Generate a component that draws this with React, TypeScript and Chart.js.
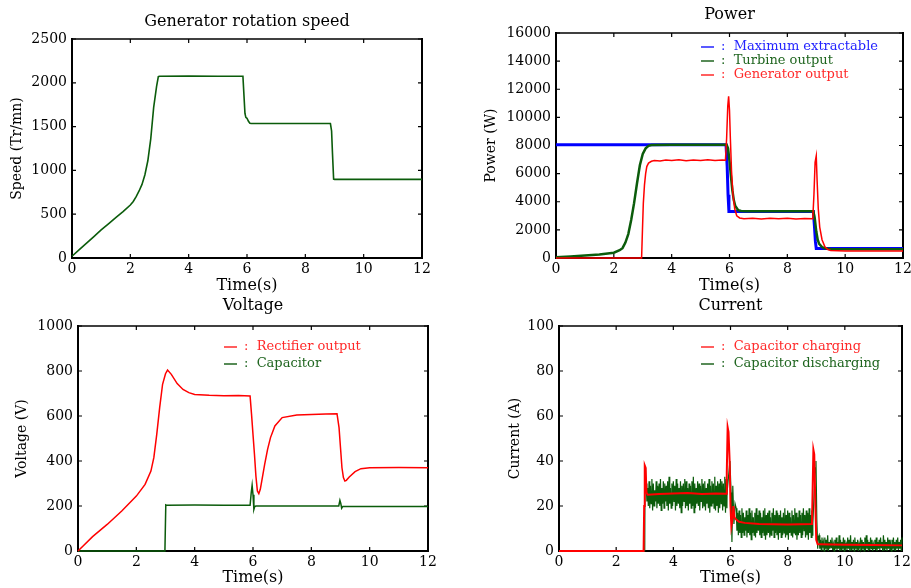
import React, { useEffect, useRef } from 'react';
import { Chart, registerables } from 'chart.js';
Chart.register(...registerables);

const FONT = "'DejaVu Serif', serif";
Chart.defaults.font.family = FONT;
Chart.defaults.color = '#000';

// ---------- Axis ticks ----------
const timeTicks = { min: 0, max: 12, step: 2 };
const speedTicks = { min: 0, max: 2500, step: 500 };
const powerTicks = { min: 0, max: 16000, step: 2000 };
const voltTicks = { min: 0, max: 1000, step: 200 };
const currTicks = { min: 0, max: 100, step: 20 };

// ---------- Generator rotation speed ----------
const speedTime = [0, 0.25, 0.5, 0.75, 1, 1.25, 1.5, 1.75, 2, 2.1, 2.2, 2.3, 2.4, 2.5, 2.6, 2.7, 2.8, 2.9, 2.96, 3.0, 4, 5, 5.86, 5.93, 5.96, 6.0, 6.05, 6.1, 6.15, 7, 8, 8.86, 8.9, 8.93, 8.97, 9.0, 10, 11, 12];
const speedRpm = [20, 95, 170, 245, 320, 390, 460, 530, 605, 645, 700, 765, 840, 950, 1110, 1360, 1720, 1960, 2070, 2075, 2076, 2075, 2075, 1650, 1605, 1595, 1560, 1538, 1535, 1535, 1535, 1535, 1450, 1200, 900, 898, 898, 898, 898];

// ---------- Power ----------
const maxTime = [0, 5.88, 5.92, 5.95, 5.98, 6.05, 8.9, 8.94, 8.97, 9.0, 12];
const maxPower = [8050, 8050, 6500, 4500, 3300, 3300, 3300, 2200, 1200, 680, 680];

const turbTime = [0, 0.5, 1, 1.5, 2, 2.2, 2.3, 2.4, 2.5, 2.6, 2.7, 2.8, 2.9, 3.0, 3.1, 3.2, 3.3, 4, 5, 5.9, 5.95, 6.0, 6.05, 6.1, 6.15, 6.2, 6.3, 6.4, 6.6, 7, 8, 8.9, 8.95, 9.0, 9.05, 9.1, 9.2, 9.3, 9.5, 10, 12];
const turbPower = [50, 100, 170, 250, 380, 550, 700, 1100, 1700, 2700, 3900, 5300, 6600, 7400, 7800, 7980, 8040, 8050, 8050, 8050, 7800, 6900, 5800, 4800, 4100, 3700, 3400, 3340, 3330, 3330, 3330, 3330, 2800, 1900, 1300, 1000, 780, 680, 640, 620, 620];

const genTime = [0, 2.96, 2.99, 3.02, 3.06, 3.1, 3.14, 3.2, 3.3, 3.4, 3.6, 3.8, 4.0, 4.25, 4.5, 4.75, 5.0, 5.25, 5.5, 5.75, 5.86, 5.9, 5.94, 5.97, 6.0, 6.03, 6.07, 6.12, 6.18, 6.25, 6.35, 6.5, 6.8, 7.1, 7.4, 7.7, 8.0, 8.3, 8.6, 8.88, 8.92, 8.96, 9.0, 9.03, 9.07, 9.12, 9.2, 9.3, 9.4, 9.5, 10, 11, 12];
const genPower = [0, 0, 2000, 3900, 5200, 6000, 6500, 6750, 6880, 6930, 6900, 6960, 6930, 6980, 6920, 6970, 6940, 6990, 6930, 6960, 6950, 8500, 10800, 11500, 10500, 8500, 6200, 4500, 3500, 3000, 2850, 2800, 2830, 2780, 2820, 2790, 2830, 2780, 2810, 2800, 4500, 6800, 7250, 5500, 3500, 2200, 1300, 800, 600, 530, 500, 500, 500];

// ---------- Voltage ----------
const rectTime = [0, 0.5, 1, 1.5, 2, 2.3, 2.5, 2.6, 2.7, 2.8, 2.9, 3.0, 3.07, 3.2, 3.4, 3.6, 3.8, 4.0, 4.5, 5.0, 5.5, 5.9, 5.95, 6.0, 6.05, 6.1, 6.15, 6.2, 6.25, 6.3, 6.4, 6.5, 6.6, 6.75, 7.0, 7.5, 8.0, 8.5, 8.88, 8.95, 9.0, 9.05, 9.1, 9.15, 9.2, 9.3, 9.5, 9.7, 10, 11, 12];
const rectVolt = [0, 64, 118, 178, 244, 296, 355, 415, 518, 637, 741, 788, 804, 785, 744, 718, 704, 696, 692, 690, 691, 689, 607, 518, 430, 333, 267, 255, 274, 311, 385, 452, 504, 556, 593, 604, 607, 609, 610, 548, 459, 370, 326, 311, 314, 329, 353, 366, 370, 371, 370];

const capTime = [0, 2.98, 3.01, 3.05, 4, 5, 5.9, 5.94, 5.97, 6.0, 6.03, 6.06, 6.1, 7, 8, 8.94, 8.98, 9.01, 9.04, 9.08, 10, 12];
const capVolt = [0, 0, 205, 203, 204, 203, 203, 260, 292, 250, 185, 198, 200, 200, 200, 200, 225, 212, 190, 198, 198, 198];

// ---------- Current ----------
const chgTime = [0, 2.96, 2.98, 3.0, 3.03, 3.06, 3.1, 3.5, 4, 4.5, 5, 5.5, 5.85, 5.87, 5.9, 5.93, 5.97, 6.0, 6.03, 6.07, 6.1, 6.14, 6.2, 6.3, 6.5, 7, 8, 8.85, 8.87, 8.9, 8.93, 8.97, 9.0, 9.05, 9.1, 10, 11, 12];
const chgAmp = [0, 0, 20, 38, 37, 26, 25, 25.3, 25.6, 25.8, 25.3, 25.6, 25.5, 35, 55, 53, 40, 20, 11, 14, 20, 15, 14, 13, 12.5, 12, 11.8, 12, 25, 45, 43, 20, 5, 3, 3, 2.8, 2.7, 2.5];

// discharging current: transitions + noisy segments (upper / lower peaks every 0.05 s)
const disPreTime = [0, 3.0, 3.01, 3.03];
const disPreAmp = [0, 0, 37, 28];
const disSegAStart = 3.05;
const disSegAHi = [30, 28, 31, 29, 32, 30, 27, 31, 29, 30, 32, 28, 31, 30, 29, 31, 33, 28, 30, 31, 29, 32, 30, 28, 31, 29, 30, 32, 31, 28, 30, 29, 31, 33, 30, 28, 31, 30, 29, 32, 30, 31, 28, 30, 32, 29, 31, 30, 33, 29, 31, 30, 32, 31, 30, 33, 32];
const disSegALo = [22, 20, 19, 21, 18, 20, 22, 19, 21, 20, 18, 21, 19, 22, 20, 18, 21, 19, 20, 22, 18, 20, 21, 19, 17, 20, 22, 19, 20, 18, 21, 19, 20, 17, 19, 21, 20, 18, 22, 19, 20, 18, 21, 19, 17, 20, 21, 19, 18, 20, 17, 19, 21, 18, 20, 17, 19];
const disMid1Time = [5.88, 5.93, 5.98, 6.02, 6.05, 6.08, 6.12, 6.16];
const disMid1Amp = [26, 33, 40, 26, 4, 29, 12, 21];
const disSegBStart = 6.2;
const disSegBHi = [19, 17, 18, 16, 19, 17, 15, 18, 16, 19, 17, 18, 15, 17, 19, 16, 18, 17, 15, 18, 19, 16, 17, 18, 15, 17, 19, 16, 18, 17, 16, 18, 15, 17, 19, 16, 18, 17, 15, 18, 16, 19, 17, 15, 18, 16, 17, 19, 16, 18, 17, 19, 16, 18];
const disSegBLo = [9, 7, 8, 6, 8, 7, 9, 6, 8, 7, 5, 8, 7, 6, 8, 9, 7, 6, 8, 7, 5, 7, 8, 6, 7, 9, 6, 8, 7, 5, 8, 6, 7, 8, 6, 7, 5, 8, 7, 6, 8, 7, 5, 7, 8, 6, 7, 9, 6, 7, 5, 8, 6, 7];
const disMid2Time = [8.88, 8.92, 8.96, 8.99, 9.02, 9.05, 9.07];
const disMid2Amp = [12, 24, 37, 40, 14, 1, 6];
const disSegCStart = 9.1;
const disSegCHi = [7, 5, 6, 4, 6, 5, 7, 4, 5, 6, 3, 5, 6, 4, 7, 5, 4, 6, 5, 3, 6, 5, 7, 4, 5, 6, 4, 5, 3, 6, 5, 4, 6, 7, 5, 4, 6, 5, 3, 5, 6, 4, 5, 6, 4, 7, 5, 4, 6, 5, 3, 5, 6, 4, 5, 6, 4, 5, 6];
const disSegCLo = [1, 0.5, 1.5, 0, 1, 0.5, 0, 1, 1.5, 0.5, 0, 1, 0.5, 1, 0, 0.5, 1, 0, 1.5, 0.5, 1, 0, 0.5, 1, 0, 1, 0.5, 0, 1.5, 0.5, 1, 0, 0.5, 1, 0, 0.5, 1, 0, 1, 0.5, 0, 1, 0.5, 1.5, 0, 0.5, 1, 0, 1, 0.5, 0, 1, 0.5, 0, 1, 0.5, 1, 0, 0.5];
const SEG_STEP = 0.05;

// ---------- helpers ----------
type Pt = { x: number; y: number };
function zip(t: number[], v: number[]): Pt[] {
  const n = Math.min(t.length, v.length);
  const out: Pt[] = [];
  for (let i = 0; i < n; i++) out.push({ x: t[i], y: v[i] });
  return out;
}
function band(start: number, hi: number[], lo: number[]): Pt[] {
  const n = Math.min(hi.length, lo.length);
  const out: Pt[] = [];
  for (let i = 0; i < n; i++) {
    const t = +(start + i * SEG_STEP).toFixed(4);
    out.push({ x: t, y: hi[i] });
    out.push({ x: +(t + SEG_STEP / 2).toFixed(4), y: lo[i] });
  }
  return out;
}
const dischargePts: Pt[] = [
  ...zip(disPreTime, disPreAmp),
  ...band(disSegAStart, disSegAHi, disSegALo),
  ...zip(disMid1Time, disMid1Amp),
  ...band(disSegBStart, disSegBHi, disSegBLo),
  ...zip(disMid2Time, disMid2Amp),
  ...band(disSegCStart, disSegCHi, disSegCLo),
];

const GREEN = '#0b5c0b';
const RED = '#ff0000';
const BLUE = '#0000ff';

function line(data: Pt[], color: string, width: number, order: number) {
  return {
    data,
    borderColor: color,
    backgroundColor: color,
    borderWidth: width,
    pointRadius: 0,
    tension: 0,
    fill: false,
    order,
    clip: 3,
  };
}

type LegendItem = { label: string; color: string };
type PanelCfg = {
  canvas: { left: number; top: number; width: number; height: number };
  plot: { l: number; t: number; r: number; b: number };
  title: string;
  titleY: number;
  yTitle: string;
  yTitleX: number;
  xTitleY: number;
  yTicks: { min: number; max: number; step: number };
  datasets: any[];
  legend: LegendItem[];
  legendX: number;
  legendY: number;
  legendDy: number;
};

const TITLE_SIZE = 16;
const TICK_SIZE = 14;
const XT_SIZE = 16;
const YT_SIZE = 14;
const LEG_SIZE = 13;

function boxPlugin() {
  return {
    id: 'boxAxes',
    beforeDatasetsDraw(chart: any) {
      const { ctx, chartArea: a, scales } = chart;
      ctx.save();
      ctx.strokeStyle = '#000';
      ctx.lineWidth = 1.2;
      ctx.beginPath();
      for (const t of scales.x.ticks) {
        const px = scales.x.getPixelForValue(t.value);
        ctx.moveTo(px, a.bottom);
        ctx.lineTo(px, a.bottom - 4);
        ctx.moveTo(px, a.top);
        ctx.lineTo(px, a.top + 4);
      }
      for (const t of scales.y.ticks) {
        const py = scales.y.getPixelForValue(t.value);
        ctx.moveTo(a.left, py);
        ctx.lineTo(a.left + 4, py);
        ctx.moveTo(a.right, py);
        ctx.lineTo(a.right - 4, py);
      }
      ctx.stroke();
      ctx.lineCap = 'square';
      ctx.lineWidth = 2;
      ctx.beginPath();
      ctx.moveTo(a.left, a.top);
      ctx.lineTo(a.left, a.bottom);
      ctx.lineTo(a.right, a.bottom);
      ctx.lineTo(a.right, a.top);
      ctx.stroke();
      ctx.lineWidth = 1.5;
      ctx.beginPath();
      ctx.moveTo(a.left, a.top);
      ctx.lineTo(a.right, a.top);
      ctx.stroke();
      ctx.restore();
    },
  };
}

function legendPlugin(p: PanelCfg) {
  return {
    id: 'customLegend',
    afterDraw(chart: any) {
      const { ctx } = chart;
      ctx.save();
      ctx.font = `${LEG_SIZE}px ${FONT}`;
      ctx.textBaseline = 'middle';
      ctx.textAlign = 'left';
      p.legend.forEach((it, i) => {
        const x = p.legendX - p.canvas.left;
        const y = p.legendY + i * p.legendDy - p.canvas.top;
        ctx.strokeStyle = it.color;
        ctx.lineWidth = 1.5;
        ctx.beginPath();
        ctx.moveTo(x, y);
        ctx.lineTo(x + 13, y);
        ctx.stroke();
        ctx.fillStyle = it.color;
        ctx.fillText(':  ' + it.label, x + 20, y);
      });
      ctx.restore();
    },
  };
}

function buildConfig(p: PanelCfg): any {
  const c = p.canvas;
  const titleLH = TITLE_SIZE * 1.2;
  const titlePadTop = p.titleY - c.top - titleLH / 2;
  const titlePadBottom = p.plot.t - c.top - titlePadTop - titleLH;
  const yW = p.plot.l - c.left;
  const padRight = c.left + c.width - p.plot.r;
  const xH = c.top + c.height - p.plot.b;
  const xtLH = XT_SIZE * 1.2;
  const xTitlePadBottom = c.top + c.height - p.xTitleY - xtLH / 2;
  const tickLH = TICK_SIZE * 1.2;
  const xTickPad = 11.5 - tickLH / 2;
  const ytLH = YT_SIZE * 1.2;
  const yTitlePadTop = p.yTitleX - c.left - ytLH / 2;
  const tickFont = { family: FONT, size: TICK_SIZE };
  return {
    type: 'line',
    data: { datasets: p.datasets },
    options: {
      responsive: false,
      animation: false,
      devicePixelRatio: 1,
      events: [],
      layout: { padding: { left: 0, right: padRight, top: 0, bottom: 0 } },
      plugins: {
        legend: { display: false },
        tooltip: { enabled: false },
        title: {
          display: true,
          fullSize: false,
          text: p.title,
          color: '#000',
          font: { family: FONT, size: TITLE_SIZE, weight: 'normal', lineHeight: 1.2 },
          padding: { top: titlePadTop, bottom: titlePadBottom },
        },
      },
      scales: {
        x: {
          type: 'linear',
          min: timeTicks.min,
          max: timeTicks.max,
          ticks: {
            stepSize: timeTicks.step,
            padding: xTickPad,
            font: tickFont,
            color: '#000',
            maxRotation: 0,
            autoSkip: false,
            callback: (v: number) => String(v),
          },
          grid: { display: false, drawTicks: false },
          border: { display: false },
          title: {
            display: true,
            text: 'Time(s)',
            color: '#000',
            font: { family: FONT, size: XT_SIZE, lineHeight: 1.2 },
            padding: { top: 0, bottom: xTitlePadBottom },
          },
          afterFit: (s: any) => {
            s.height = xH;
          },
        },
        y: {
          type: 'linear',
          min: p.yTicks.min,
          max: p.yTicks.max,
          ticks: {
            stepSize: p.yTicks.step,
            padding: 5,
            font: tickFont,
            color: '#000',
            autoSkip: false,
            callback: (v: number) => String(v),
          },
          grid: { display: false, drawTicks: false },
          border: { display: false },
          title: {
            display: true,
            text: p.yTitle,
            color: '#000',
            font: { family: FONT, size: YT_SIZE, lineHeight: 1.2 },
            padding: { top: yTitlePadTop, bottom: 0 },
          },
          afterFit: (s: any) => {
            s.width = yW;
          },
        },
      },
    },
    plugins: [boxPlugin(), legendPlugin(p)],
  };
}

const panels: PanelCfg[] = [
  {
    canvas: { left: 0, top: 0, width: 456, height: 296 },
    plot: { l: 72, t: 39, r: 422, b: 258 },
    title: 'Generator rotation speed',
    titleY: 22,
    yTitle: 'Speed (Tr/mn)',
    yTitleX: 17,
    xTitleY: 286,
    yTicks: speedTicks,
    datasets: [line(zip(speedTime, speedRpm), GREEN, 1.6, 1)],
    legend: [],
    legendX: 0,
    legendY: 0,
    legendDy: 0,
  },
  {
    canvas: { left: 456, top: 0, width: 470, height: 296 },
    plot: { l: 556, t: 33, r: 903, b: 258 },
    title: 'Power',
    titleY: 15,
    yTitle: 'Power (W)',
    yTitleX: 491,
    xTitleY: 286,
    yTicks: powerTicks,
    datasets: [
      line(zip(maxTime, maxPower), BLUE, 3, 3),
      line(zip(turbTime, turbPower), GREEN, 2.5, 2),
      line(zip(genTime, genPower), RED, 1.5, 1),
    ],
    legend: [
      { label: 'Maximum extractable', color: '#2323ff' },
      { label: 'Turbine output', color: '#1f651f' },
      { label: 'Generator output', color: '#ff2a2a' },
    ],
    legendX: 701,
    legendY: 47,
    legendDy: 14,
  },
  {
    canvas: { left: 0, top: 294, width: 456, height: 294 },
    plot: { l: 78, t: 326, r: 428, b: 551 },
    title: 'Voltage',
    titleY: 306,
    yTitle: 'Voltage (V)',
    yTitleX: 22,
    xTitleY: 578,
    yTicks: voltTicks,
    datasets: [
      line(zip(rectTime, rectVolt), RED, 1.5, 1),
      line(zip(capTime, capVolt), GREEN, 1.5, 2),
    ],
    legend: [
      { label: 'Rectifier output', color: '#ff2a2a' },
      { label: 'Capacitor', color: '#1f651f' },
    ],
    legendX: 224,
    legendY: 347,
    legendDy: 17,
  },
  {
    canvas: { left: 456, top: 294, width: 470, height: 294 },
    plot: { l: 559, t: 326, r: 902, b: 551 },
    title: 'Current',
    titleY: 306,
    yTitle: 'Current (A)',
    yTitleX: 515,
    xTitleY: 578,
    yTicks: currTicks,
    datasets: [
      line(zip(chgTime, chgAmp), RED, 2, 1),
      line(dischargePts, GREEN, 1.2, 2),
    ],
    legend: [
      { label: 'Capacitor charging', color: '#ff2a2a' },
      { label: 'Capacitor discharging', color: '#1f651f' },
    ],
    legendX: 701,
    legendY: 347,
    legendDy: 17,
  },
];

function Panel({ cfg }: { cfg: PanelCfg }) {
  const ref = useRef<HTMLCanvasElement | null>(null);
  useEffect(() => {
    const chart = new Chart(ref.current as HTMLCanvasElement, buildConfig(cfg));
    return () => chart.destroy();
  }, [cfg]);
  const c = cfg.canvas;
  return (
    <canvas
      ref={ref}
      width={c.width}
      height={c.height}
      style={{ position: 'absolute', left: c.left, top: c.top, width: c.width, height: c.height }}
    />
  );
}

export default function App() {
  return (
    <div
      style={{
        position: 'fixed',
        left: 0,
        top: 0,
        width: 911,
        height: 588,
        overflow: 'hidden',
        background: '#ffffff',
      }}
    >
      {panels.map((p, i) => (
        <Panel key={i} cfg={p} />
      ))}
    </div>
  );
}
